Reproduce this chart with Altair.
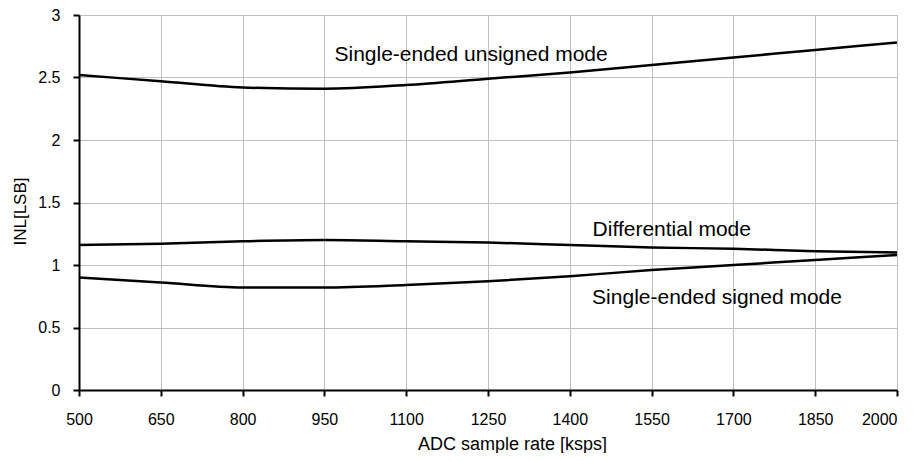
import altair as alt
import pandas as pd

rate = [500, 650, 800, 950, 1100, 1250, 1400, 1550, 1700, 1850, 2000]
unsigned_mode = [2.52, 2.47, 2.42, 2.41, 2.44, 2.49, 2.54, 2.60, 2.66, 2.72, 2.78]
differential_mode = [1.16, 1.17, 1.19, 1.20, 1.19, 1.18, 1.16, 1.14, 1.13, 1.11, 1.10]
signed_mode = [0.90, 0.86, 0.82, 0.82, 0.84, 0.87, 0.91, 0.96, 1.00, 1.04, 1.08]
y_ticks = [0, 0.5, 1, 1.5, 2, 2.5, 3]

label_text = ["Single-ended unsigned mode", "Differential mode", "Single-ended signed mode"]
label_x = [1219, 1587, 1670]
label_y = [2.634, 1.232, 0.686]

rows = []
for name, vals in [("unsigned", unsigned_mode), ("differential", differential_mode), ("signed", signed_mode)]:
    for r, v in zip(rate, vals):
        rows.append({"series": name, "rate": r, "inl": v})
df = pd.DataFrame(rows)
labels = pd.DataFrame({"text": label_text, "x": label_x, "y": label_y})

FONT = "Liberation Sans"

xscale = alt.Scale(domain=[500, 2000], nice=False, zero=False)
yscale = alt.Scale(domain=[0, 3], nice=False)

lines = alt.Chart(df).mark_line(color="black", strokeWidth=2.5, interpolate="monotone").encode(
    x=alt.X("rate:Q", scale=xscale,
            axis=alt.Axis(title="ADC sample rate [ksps]", values=rate, format="d",
                          grid=True, gridColor="#bfbfbf", gridWidth=1,
                          domainColor="black", domainWidth=2,
                          tickColor="black", tickWidth=2, tickSize=6,
                          labelFont=FONT, labelFontSize=16, labelColor="black",
                          labelPadding=15, labelFlush=False,
                          labelAlign={"condition": {"test": "datum.value >= 2000", "value": "right"},
                                      "value": "center"},
                          titleFont=FONT, titleFontSize=18, titleFontWeight="normal",
                          titleColor="black", titleX=433, titleY=59,
                          titleAlign="center", titleBaseline="alphabetic")),
    y=alt.Y("inl:Q", scale=yscale,
            axis=alt.Axis(title="INL[LSB]", values=y_ticks, format="~g",
                          grid=True, gridColor="#bfbfbf", gridWidth=1,
                          domainColor="black", domainWidth=2,
                          tickColor="black", tickWidth=2, tickSize=6,
                          labelFont=FONT, labelFontSize=16, labelColor="black",
                          labelPadding=13, labelFlush=False,
                          titleFont=FONT, titleFontSize=17, titleFontWeight="normal",
                          titleColor="black", titleAngle=270, titleX=-59, titleY=196,
                          titleAlign="center", titleBaseline="middle")),
    detail="series:N",
)

text = alt.Chart(labels).mark_text(font=FONT, fontSize=21, color="black",
                                   align="center", baseline="alphabetic").encode(
    x=alt.X("x:Q", scale=xscale),
    y=alt.Y("y:Q", scale=yscale),
    text="text:N",
)

chart = (lines + text).properties(
    width=818, height=375,
    autosize=alt.AutoSizeParams(type="none"),
    padding={"left": 71, "top": 7, "right": 11, "bottom": 63},
).configure_view(stroke=None).configure(background="white")

chart.save("out.html", embed_options={"renderer": "svg", "actions": False})
